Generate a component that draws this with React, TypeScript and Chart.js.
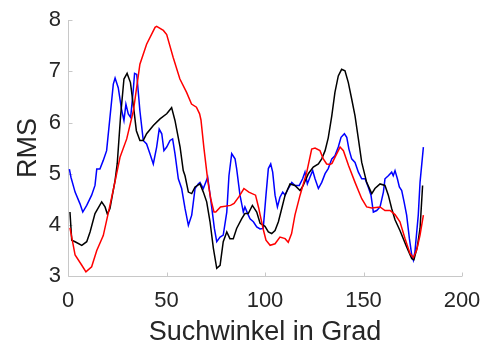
import { useEffect, useRef } from "react";
import { Chart, registerables } from "chart.js";

Chart.register(...registerables);

// Axis ticks
const xTickValues = [0, 50, 100, 150, 200];
const yTickValues = [3, 4, 5, 6, 7, 8];

// Red curve
const redX = [1, 3.6, 7, 9.1, 12, 14.6, 17.9, 21.3, 24, 26.4, 29.8, 33.2, 36.5, 39.9, 44.2, 45, 48.4, 50.1, 53.4, 56.8, 60.2, 62.7, 65.2, 66.8, 67.5, 69, 71, 72.5, 74.1, 75, 77.4, 82.5, 84.3, 86.8, 89.3, 91.8, 95.2, 96.8, 97.5, 99.2, 100.5, 102.6, 105.1, 107.6, 110.2, 111.8, 113.5, 115.2, 117.8, 121.2, 123.7, 125.4, 127.9, 129.6, 131.3, 133, 134, 135.5, 138.1, 139.8, 142.4, 145.7, 149.1, 151.6, 154.2, 158.4, 160.9, 163.5, 166, 168.5, 171.1, 173.6, 175.3, 177, 178.7, 180.4];
const redY = [3.94, 3.41, 3.21, 3.08, 3.18, 3.5, 3.79, 4.38, 4.87, 5.32, 5.68, 6.23, 7.14, 7.53, 7.86, 7.88, 7.8, 7.72, 7.27, 6.85, 6.59, 6.36, 6.3, 6.17, 6.05, 5.5, 4.85, 4.5, 4.25, 4.25, 4.35, 4.38, 4.42, 4.55, 4.71, 4.64, 4.58, 4.33, 4.2, 3.9, 3.7, 3.6, 3.63, 3.76, 3.73, 3.66, 3.83, 4.19, 4.58, 5.03, 5.48, 5.5, 5.45, 5.29, 5.19, 5.18, 5.2, 5.32, 5.52, 5.45, 5.16, 4.83, 4.51, 4.35, 4.33, 4.35, 4.28, 4.28, 4.2, 4.06, 3.73, 3.44, 3.36, 3.51, 3.8, 4.19];

// Black curve
const blackX = [1, 1.9, 3.6, 7, 9.5, 11.2, 13.7, 17.1, 18.8, 20, 21.3, 23.9, 25, 26.7, 28.4, 30, 31.7, 33.4, 34.7, 36.5, 38.2, 39.9, 43.3, 46.7, 50.1, 52.6, 54.3, 56.9, 58.5, 59.4, 61.1, 62.8, 64.5, 67, 68.7, 70.4, 72.1, 73.8, 75.5, 77.2, 78.8, 80.6, 82.2, 83.9, 85.6, 88.2, 89.8, 91.5, 93.6, 95.8, 97.5, 100, 101.7, 103.4, 105.1, 106.8, 108.5, 110.2, 112.7, 115.2, 117.8, 119.4, 122, 124.5, 127.1, 128.8, 130.5, 132.1, 133.9, 135.5, 137.2, 138.9, 140.6, 142.3, 144, 145.7, 147.4, 149.1, 151.6, 154.2, 155.8, 158.4, 160.9, 162.6, 164.3, 166, 168.5, 171.9, 174.5, 175.6, 177.3, 178.7, 180];
const blackY = [4.25, 3.7, 3.67, 3.6, 3.67, 3.86, 4.22, 4.45, 4.35, 4.21, 4.32, 4.87, 5.2, 6.13, 6.85, 6.96, 6.78, 6.26, 5.84, 5.65, 5.65, 5.78, 5.94, 6.07, 6.17, 6.29, 6.04, 5.52, 5.06, 4.96, 4.64, 4.61, 4.74, 4.8, 4.64, 4.45, 4.06, 3.54, 3.15, 3.21, 3.67, 3.86, 3.73, 3.73, 3.93, 4.12, 4.22, 4.22, 4.38, 4.25, 4.03, 3.97, 3.86, 3.83, 3.89, 4.06, 4.32, 4.58, 4.8, 4.77, 4.67, 4.77, 5.0, 5.13, 5.19, 5.29, 5.45, 5.7, 6.13, 6.59, 6.91, 7.04, 7.01, 6.78, 6.46, 6.13, 5.68, 5.22, 4.83, 4.61, 4.71, 4.8, 4.77, 4.58, 4.32, 4.1, 3.89, 3.57, 3.34, 3.32, 3.57, 3.93, 4.77];

// Blue curve
const blueX = [0.7, 1.5, 3.6, 6.1, 7.5, 9.5, 12, 13.7, 14.6, 16.2, 17.9, 19.6, 21.3, 23, 23.9, 25.5, 27.3, 28.4, 29.4, 30.6, 31.8, 33.1, 33.8, 34.9, 36.5, 38.2, 39.9, 41.6, 43.3, 45, 46.3, 47.6, 48.7, 50.1, 51.8, 53.1, 54.3, 56, 57.7, 59.4, 61.1, 62.8, 64.5, 66.1, 67, 68.7, 70.9, 72.6, 74.3, 75.5, 77.2, 78.8, 80.6, 81.7, 83.1, 84.8, 85.6, 87.3, 89, 89.8, 91.2, 92.4, 94.1, 95.8, 97.5, 99.1, 100.5, 101.7, 102.9, 103.9, 105.1, 106.3, 107.6, 109, 110.2, 111.8, 113.6, 115.2, 117.4, 119.1, 120.3, 121.5, 122.8, 124.2, 125.4, 127.1, 128.8, 130.5, 132.1, 133.9, 135.5, 137.2, 138.6, 140.3, 141.5, 142.6, 144, 145.7, 147.4, 149.1, 150.8, 152.4, 153.8, 155, 156.7, 158.4, 160.1, 160.9, 162.6, 164.3, 165.1, 166, 167.2, 168.2, 169.4, 170.6, 171.9, 173.3, 174.5, 175.3, 176.1, 177.8, 178.7, 180.4];
const blueY = [5.09, 4.93, 4.64, 4.41, 4.25, 4.38, 4.58, 4.77, 5.09, 5.09, 5.26, 5.45, 6.1, 6.75, 6.87, 6.68, 6.23, 6.04, 6.36, 6.17, 6.1, 6.62, 6.96, 6.94, 6.23, 5.65, 5.58, 5.39, 5.19, 5.52, 5.87, 5.78, 5.45, 5.52, 5.65, 5.68, 5.39, 4.9, 4.71, 4.32, 3.99, 4.19, 4.71, 4.8, 4.83, 4.71, 4.93, 4.45, 3.93, 3.67, 3.76, 3.8, 4.25, 4.96, 5.39, 5.29, 5.1, 4.58, 4.25, 4.35, 4.22, 4.12, 4.06, 3.96, 3.92, 3.93, 4.58, 5.1, 5.19, 5.03, 4.58, 4.35, 4.54, 4.64, 4.58, 4.71, 4.83, 4.77, 4.77, 4.9, 5.03, 4.8, 4.93, 5.06, 4.9, 4.71, 4.83, 5.0, 5.1, 5.29, 5.35, 5.52, 5.71, 5.78, 5.71, 5.48, 5.29, 5.22, 5.03, 4.9, 4.9, 4.74, 4.58, 4.25, 4.28, 4.35, 4.64, 4.9, 4.96, 5.03, 4.96, 5.06, 4.9, 4.74, 4.67, 4.45, 4.19, 3.73, 3.41, 3.31, 3.47, 4.19, 4.83, 5.52];

const FONT = '"Liberation Sans", Arial, Helvetica, sans-serif';
const AXIS_COLOR = "#c8c8c8";
const TEXT_COLOR = "#262626";
const TICK_LEN = 4;

const toPoints = (xs: number[], ys: number[]) => xs.map((x, i) => ({ x, y: ys[i] }));

// Draws the left/bottom axis lines with inward-pointing tick marks.
const inwardAxes = {
  id: "inwardAxes",
  beforeDatasetsDraw(chart: any) {
    const { ctx, chartArea, scales } = chart;
    const xs = scales.x;
    const ys = scales.y;
    const left = Math.round(chartArea.left) + 0.5;
    const bottom = Math.round(chartArea.bottom) + 0.5;
    ctx.save();
    ctx.strokeStyle = AXIS_COLOR;
    ctx.lineWidth = 1;
    ctx.beginPath();
    ctx.moveTo(left, Math.round(chartArea.top));
    ctx.lineTo(left, bottom);
    ctx.lineTo(Math.round(chartArea.right), bottom);
    for (const v of xTickValues) {
      const px = Math.round(xs.getPixelForValue(v)) + 0.5;
      ctx.moveTo(px, bottom);
      ctx.lineTo(px, bottom - TICK_LEN);
    }
    for (const v of yTickValues) {
      const py = Math.round(ys.getPixelForValue(v)) + 0.5;
      ctx.moveTo(left, py);
      ctx.lineTo(left + TICK_LEN, py);
    }
    ctx.stroke();
    ctx.restore();
  },
};

export default function App() {
  const canvasRef = useRef<HTMLCanvasElement | null>(null);

  useEffect(() => {
    document.body.style.margin = "0";
    const canvas = canvasRef.current;
    if (!canvas) return;

    const line = (label: string, xs: number[], ys: number[], color: string) => ({
      label,
      data: toPoints(xs, ys),
      borderColor: color,
      backgroundColor: color,
      borderWidth: 1.5,
      pointRadius: 0,
      tension: 0,
      fill: false,
    });

    const chart = new Chart(canvas, {
      type: "line",
      data: {
        datasets: [
          line("rot", redX, redY, "#ff0000"),
          line("schwarz", blackX, blackY, "#000000"),
          line("blau", blueX, blueY, "#0000ff"),
        ],
      },
      options: {
        responsive: false,
        animation: false,
        parsing: true,
        layout: { padding: { top: 19, right: 31, left: 0, bottom: 0 } },
        plugins: {
          legend: { display: false },
          tooltip: { enabled: false },
        },
        scales: {
          x: {
            type: "linear",
            min: 0,
            max: 200,
            afterBuildTicks: (s: any) => {
              s.ticks = xTickValues.map((value) => ({ value }));
            },
            afterFit: (s: any) => {
              s.height = 73;
            },
            grid: { display: false, drawTicks: false },
            border: { display: false },
            ticks: {
              color: TEXT_COLOR,
              font: { family: FONT, size: 22 },
              padding: 12,
              maxRotation: 0,
              autoSkip: false,
            },
            title: {
              display: true,
              text: "Suchwinkel in Grad",
              color: TEXT_COLOR,
              font: { family: FONT, size: 27 },
              padding: { top: 0, bottom: 0 },
            },
          },
          y: {
            type: "linear",
            min: 3,
            max: 8,
            afterBuildTicks: (s: any) => {
              s.ticks = yTickValues.map((value) => ({ value }));
            },
            afterFit: (s: any) => {
              s.width = 68;
            },
            grid: { display: false, drawTicks: false },
            border: { display: false },
            ticks: {
              color: TEXT_COLOR,
              font: { family: FONT, size: 22 },
              padding: 7,
            },
            title: {
              display: true,
              text: "RMS",
              color: TEXT_COLOR,
              font: { family: FONT, size: 27 },
              padding: { top: 12, bottom: 0 },
            },
          },
        },
      },
      plugins: [inwardAxes],
    });

    return () => chart.destroy();
  }, []);

  return (
    <div style={{ width: 493, height: 349 }}>
      <canvas ref={canvasRef} width={493} height={349} />
    </div>
  );
}
